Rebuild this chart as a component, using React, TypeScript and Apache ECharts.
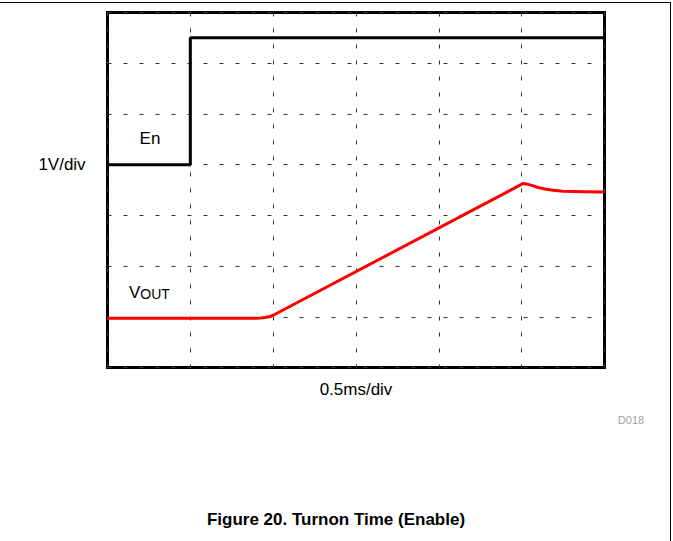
import React, { useEffect, useRef } from "react";
import * as echarts from "echarts";

// Time in divisions (0.5 ms/div), voltage in divisions (1 V/div)
const enX = [0, 1, 1, 6];
const enY = [4, 4, 6.5, 6.5];
const voutX = [0, 1.8, 1.85, 1.9, 1.95, 2.0, 5.02, 5.07, 5.13, 5.2, 5.28, 5.38, 5.5, 5.75, 6];
const voutY = [0.97, 0.97, 0.975, 0.985, 1.0, 1.03, 3.63, 3.615, 3.585, 3.55, 3.52, 3.495, 3.475, 3.465, 3.46];

const xMin = 0, xMax = 6, yMin = 0, yMax = 7;

export default function App() {
  const ref = useRef<HTMLDivElement>(null);
  useEffect(() => {
    const chart = echarts.init(ref.current!, null, { renderer: "svg" });
    const split = { show: true, lineStyle: { color: "#333", width: 1, type: [4, 12] as any } };
    const ff = "'Liberation Sans', Arial, sans-serif";
    chart.setOption({
      animation: false,
      grid: {
        left: 107.5, right: 68.5, top: 12.5, bottom: 173.5,
        show: true, borderColor: "#000", borderWidth: 3, backgroundColor: "transparent",
      },
      xAxis: {
        type: "value", min: xMin, max: xMax, interval: 1,
        axisLine: { show: false }, axisTick: { show: false }, axisLabel: { show: false },
        splitLine: split,
      },
      yAxis: {
        type: "value", min: yMin, max: yMax, interval: 1,
        axisLine: { show: false }, axisTick: { show: false }, axisLabel: { show: false },
        splitLine: split,
      },
      series: [
        {
          type: "line", name: "En", symbol: "none",
          data: enX.map((x, i) => [x, enY[i]]),
          lineStyle: { color: "#000", width: 3 },
        },
        {
          type: "line", name: "VOUT", symbol: "none",
          data: voutX.map((x, i) => [x, voutY[i]]),
          lineStyle: { color: "#ff0000", width: 3, join: "round" },
        },
      ],
      graphic: [
        { type: "line", shape: { x1: 0, y1: 2.5, x2: 671, y2: 2.5 }, style: { stroke: "#000", lineWidth: 1 } },
        { type: "line", shape: { x1: 670.5, y1: 2.5, x2: 670.5, y2: 541 }, style: { stroke: "#000", lineWidth: 1 } },
        { type: "text", x: 150, y: 138, style: { text: "En", font: `17px ${ff}`, fill: "#000", textAlign: "center", textVerticalAlign: "middle" } },
        { type: "text", x: 62, y: 164, style: { text: "1V/div", font: `17px ${ff}`, fill: "#000", textAlign: "center", textVerticalAlign: "middle" } },
        {
          type: "text", x: 129, y: 291,
          style: {
            text: "{v|V}{s|OUT}",
            textAlign: "left", textVerticalAlign: "middle",
            rich: {
              v: { fontSize: 17, fontFamily: ff, fill: "#000", verticalAlign: "bottom" },
              s: { fontSize: 14, fontFamily: ff, fill: "#000", padding: [6, 0, 0, 0], verticalAlign: "bottom" },
            },
          },
        },
        { type: "text", x: 356, y: 389, style: { text: "0.5ms/div", font: `17px ${ff}`, fill: "#000", textAlign: "center", textVerticalAlign: "middle" } },
        { type: "text", x: 631, y: 420, style: { text: "D018", font: `11px ${ff}`, fill: "#a0a0a0", textAlign: "center", textVerticalAlign: "middle" } },
        { type: "text", x: 336, y: 519, style: { text: "Figure 20. Turnon Time (Enable)", font: `bold 17px ${ff}`, fill: "#000", textAlign: "center", textVerticalAlign: "middle" } },
      ],
    });
    return () => chart.dispose();
  }, []);
  return <div ref={ref} style={{ position: "fixed", left: 0, top: 0, width: 673, height: 541, background: "#fff" }} />;
}
